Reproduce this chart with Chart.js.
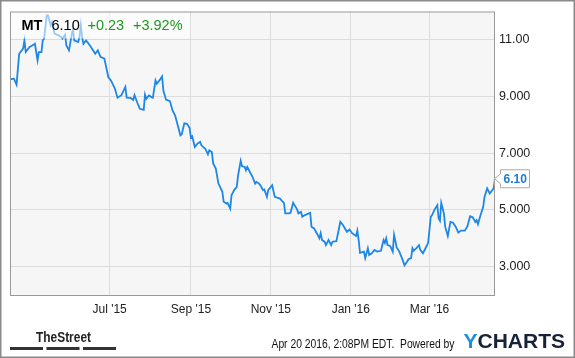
<!DOCTYPE html>
<html>
<head>
<meta charset="utf-8">
<script src="https://cdn.jsdelivr.net/npm/chart.js@4/dist/chart.umd.min.js"></script>
<style>
  html, body { margin: 0; padding: 0; background: #fff; }
  #wrap { width: 575px; height: 358px; position: relative; }
</style>
</head>
<body>
<div id="wrap"><canvas id="c" width="575" height="358"></canvas></div>
<script>
// Days since 2015-04-20 for each traced point
const days = [-4,-1,1,3,6,7,8,11,13,15,17,18,20,21,22,24,25,27,28,30,33,35,36,38,39,41,43,44,45,48,49,50,51,52,54,57,61,63,65,68,71,73,76,78,81,84,85,88,90,91,93,95,98,99,100,102,104,105,107,108,110,112,113,115,118,120,122,124,126,127,129,131,133,134,135,137,139,141,142,145,147,148,150,151,153,155,156,158,159,161,162,164,165,167,169,170,172,173,175,176,177,179,181,183,184,186,187,189,190,192,193,196,198,202,204,205,206,209,210,212,215,216,218,219,221,225,226,228,230,232,233,234,236,237,239,241,242,245,248,250,253,255,257,260,261,262,263,266,267,269,270,272,274,276,279,281,282,283,284,286,288,289,291,293,295,297,299,300,302,303,304,306,308,309,311,313,315,317,318,320,322,323,324,325,327,328,330,332,334,336,338,340,343,345,347,349,351,352,353,355,357,358,360,362,363,365,366];
const prices = [9.61,9.63,9.42,10.51,10.69,10.98,10.57,10.75,10.80,10.86,10.28,10.57,10.57,10.98,11.04,11.86,11.86,11.51,11.63,11.22,11.16,11.10,11.04,11.18,10.80,10.63,11.16,11.39,10.98,10.92,11.10,11.51,11.10,10.86,10.98,10.80,10.51,10.63,10.40,10.34,9.69,9.57,9.28,8.96,9.05,9.34,8.96,8.95,8.88,9.05,8.80,8.57,8.53,9.07,8.92,9.04,8.98,8.96,9.57,9.45,9.57,9.71,9.21,8.89,8.84,8.51,8.33,7.98,7.63,7.67,8.06,8.04,7.90,7.55,7.60,7.22,7.34,7.40,7.28,7.16,6.96,7.10,7.04,6.64,6.46,5.93,5.84,5.64,5.29,5.23,5.25,5.05,5.52,5.70,5.81,6.22,6.73,6.54,6.52,6.40,6.52,6.34,6.17,5.93,5.99,5.93,5.87,5.70,5.72,5.46,5.70,5.87,5.46,5.40,5.29,5.25,4.88,4.88,4.90,5.25,5.02,4.88,4.93,4.76,4.82,4.90,4.41,4.35,4.18,4.00,4.18,3.94,3.88,3.76,3.94,3.76,3.88,3.90,4.58,4.47,4.23,4.31,4.18,4.08,4.27,3.94,3.49,3.53,3.30,3.65,3.41,3.47,3.59,3.53,3.56,3.94,3.84,4.00,3.76,3.73,3.53,4.12,3.68,3.53,3.30,3.05,3.18,3.26,3.30,3.65,3.56,3.65,3.76,3.59,3.47,3.65,3.84,4.76,4.82,5.02,5.17,4.70,4.62,5.25,4.88,4.41,4.08,4.58,4.55,4.41,4.20,4.27,4.27,4.43,4.78,4.74,4.58,4.64,4.50,4.82,5.11,5.46,5.76,5.58,5.64,5.76,6.10];

const monthDays = [72, 134, 195, 256, 316];
const monthLabels = ["Jul '15", "Sep '15", "Nov '15", "Jan '16", "Mar '16"];
const yTickValues = [3, 5, 7, 9, 11];
const yTickLabels = ["3.000", "5.000", "7.000", "9.000", "11.00"];

const ticker = "MT";
const lastPrice = "6.10";
const change = "+0.23";
const changePct = "+3.92%";
const footerText = "Apr 20 2016, 2:08PM EDT.  Powered by";

const FONT = "'Liberation Sans', Arial, sans-serif";
Chart.defaults.font.family = FONT;

const decor = {
  id: 'decor',
  beforeDraw(chart) {
    const ctx = chart.ctx, a = chart.chartArea;
    ctx.save();
    ctx.fillStyle = '#fff';
    ctx.fillRect(0, 0, chart.width, chart.height);
    ctx.fillStyle = '#f6f6f6';
    ctx.fillRect(a.left, a.top, a.right - a.left, a.bottom - a.top);
    ctx.restore();
  },
  afterDraw(chart) {
    const ctx = chart.ctx, a = chart.chartArea;
    ctx.save();
    // header overlay
    ctx.fillStyle = 'rgba(255,255,255,0.55)';
    ctx.fillRect(a.left, a.top, 180, 27);
    ctx.textBaseline = 'alphabetic';
    ctx.textAlign = 'left';
    ctx.fillStyle = '#000';
    ctx.font = 'bold 14.5px ' + FONT;
    ctx.fillText(ticker, 21.5, 29.5);
    ctx.font = '14.5px ' + FONT;
    ctx.fillText(lastPrice, 51.5, 29.5);
    ctx.fillStyle = '#1f9a1f';
    ctx.fillText(change, 87.5, 29.5);
    ctx.fillText(changePct, 133, 29.5);

    // plot border
    ctx.strokeStyle = '#999';
    ctx.lineWidth = 1;
    ctx.strokeRect(a.left + 0.5, a.top + 0.5, a.right - a.left - 1, a.bottom - a.top);

    // price tag
    const y = chart.scales.y.getPixelForValue(prices[prices.length - 1]);
    const bx = 500, bw = 29.5, bh = 18;
    ctx.beginPath();
    ctx.moveTo(bx + 0.5, y - 5);
    ctx.lineTo(a.right - 0.5, y);
    ctx.lineTo(bx + 0.5, y + 5);
    ctx.lineTo(bx + 0.5, y + bh / 2);
    ctx.lineTo(bx + bw, y + bh / 2);
    ctx.lineTo(bx + bw, y - bh / 2);
    ctx.lineTo(bx + 0.5, y - bh / 2);
    ctx.closePath();
    ctx.fillStyle = '#fff';
    ctx.fill();
    ctx.strokeStyle = '#aaa';
    ctx.stroke();
    ctx.fillStyle = '#1a7fd4';
    ctx.font = 'bold 12px ' + FONT;
    ctx.textAlign = 'center';
    ctx.textBaseline = 'middle';
    ctx.fillText(lastPrice, bx + bw / 2 + 0.5, y + 0.5);

    // footer: TheStreet logo
    ctx.textAlign = 'left';
    ctx.textBaseline = 'alphabetic';
    ctx.fillStyle = '#222';
    ctx.font = 'bold 14px ' + FONT;
    const tsW = ctx.measureText('TheStreet').width;
    ctx.save();
    ctx.translate(36, 342);
    ctx.scale(55 / tsW, 1);
    ctx.fillText('TheStreet', 0, 0);
    ctx.restore();
    ctx.fillStyle = '#333';
    ctx.fillRect(10, 347, 33, 3);
    ctx.fillRect(46.5, 347, 33, 3);
    ctx.fillRect(83, 347, 33, 3);

    // footer right text
    ctx.fillStyle = '#111';
    ctx.font = '12px ' + FONT;
    const fw = ctx.measureText(footerText).width;
    ctx.save();
    ctx.translate(271.5, 347.5);
    ctx.scale(183 / fw, 1);
    ctx.fillText(footerText, 0, 0);
    ctx.restore();

    // YCHARTS logo
    ctx.font = 'bold 21px ' + FONT;
    ctx.fillStyle = '#1a8fe0';
    ctx.fillText('Y', 463.5, 348);
    const yw = ctx.measureText('Y').width;
    ctx.fillStyle = '#16213a';
    ctx.fillText('CHARTS', 463.5 + yw, 348);

    // outer border
    ctx.strokeStyle = '#8a8a8a';
    ctx.lineWidth = 1.5;
    ctx.strokeRect(0.75, 0.75, chart.width - 1.5, chart.height - 1.5);
    ctx.restore();
  }
};

new Chart(document.getElementById('c'), {
  type: 'line',
  data: {
    datasets: [{
      data: days.map((d, i) => ({ x: d, y: prices[i] })),
      borderColor: '#1c87e5',
      borderWidth: 1.8,
      pointRadius: 0,
      tension: 0,
      fill: false
    }]
  },
  options: {
    responsive: false,
    animation: false,
    events: [],
    layout: { padding: { left: 10, top: 10, right: 0, bottom: 0 } },
    plugins: { legend: { display: false }, tooltip: { enabled: false } },
    scales: {
      x: {
        type: 'linear',
        min: days[0],
        max: days[days.length - 1],
        afterBuildTicks: (axis) => { axis.ticks = monthDays.map(v => ({ value: v })); },
        afterFit: (axis) => { axis.height = 63; },
        grid: { color: '#dcdcdc', drawTicks: false, lineWidth: 1 },
        border: { display: false },
        ticks: {
          autoSkip: false, maxRotation: 0, padding: 7,
          color: '#222', font: { size: 12 },
          callback: (v, i) => monthLabels[i]
        }
      },
      y: {
        position: 'right',
        min: 2,
        max: 12,
        afterBuildTicks: (axis) => { axis.ticks = yTickValues.map(v => ({ value: v })); },
        afterFit: (axis) => { axis.width = 80; },
        grid: { color: '#dcdcdc', drawTicks: false, lineWidth: 1 },
        border: { display: false },
        ticks: {
          padding: 4,
          color: '#222', font: { size: 12.5 },
          callback: (v, i) => yTickLabels[i]
        }
      }
    }
  },
  plugins: [decor]
});
</script>
</body>
</html>
